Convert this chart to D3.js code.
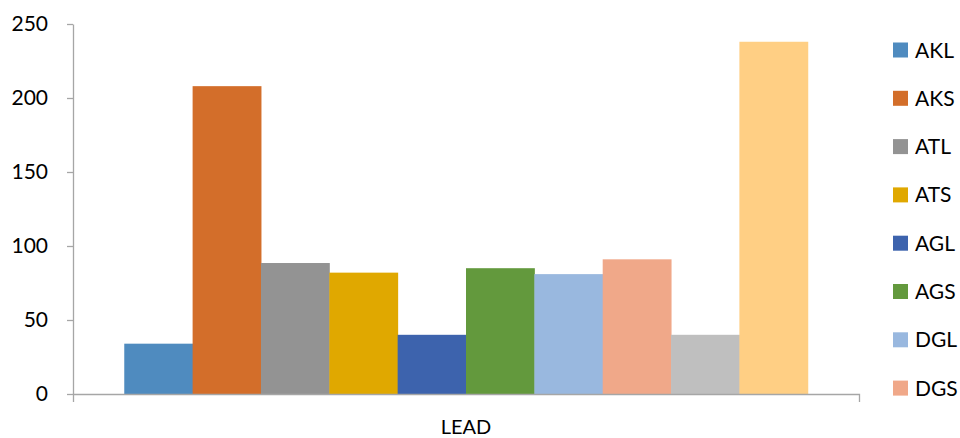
<!DOCTYPE html>
<html>
<head>
<meta charset="utf-8">
<script src="https://cdn.jsdelivr.net/npm/d3@7"></script>
<style>
  html, body { margin: 0; padding: 0; background: #fff; }
  svg { display: block; font-family: Lato, "Open Sans", sans-serif; }
</style>
</head>
<body>
<svg id="chart" width="960" height="438"></svg>
<script>
// Lead measurements per sample group
const categories = ["LEAD"];
const seriesNames = ["AKL", "AKS", "ATL", "ATS", "AGL", "AGS", "DGL", "DGS", "DKL", "DKS"];
const seriesValues = [34, 208, 88.5, 82, 40, 85, 81, 91, 40, 238];
const seriesColors = ["#4F8BBF", "#D36E2A", "#939393", "#E0A800", "#3D63AD",
                      "#63993D", "#99B8DF", "#F0A889", "#BFBFBF", "#FFCF84"];
const yTicks = [0, 50, 100, 150, 200, 250];
const legendCount = 8; // entries that fit in the legend column

const svg = d3.select("#chart");
const plot = { left: 73, right: 859, top: 24, bottom: 394 };
const axisColor = "#A6A6A6";

const y = d3.scaleLinear().domain([0, 250]).range([plot.bottom, plot.top]);

const x0 = d3.scaleBand().domain(categories)
  .range([plot.left, plot.right]).paddingInner(0).paddingOuter(0.075);
const x1 = d3.scaleBand().domain(seriesNames)
  .range([0, x0.bandwidth()]).padding(0);
const color = d3.scaleOrdinal().domain(seriesNames).range(seriesColors);

const rows = categories.map(c => seriesNames.map((s, i) => ({ cat: c, name: s, value: seriesValues[i] })));

// bars
svg.append("g").selectAll("g").data(rows).join("g")
  .attr("transform", (d, i) => `translate(${x0(categories[i])},0)`)
  .selectAll("rect").data(d => d).join("rect")
  .attr("x", d => x1(d.name))
  .attr("width", x1.bandwidth() + 0.5)
  .attr("y", d => y(d.value))
  .attr("height", d => y(0) - y(d.value))
  .attr("fill", d => color(d.name));

// y axis
const yAxis = svg.append("g")
  .attr("transform", `translate(${plot.left},0)`)
  .call(d3.axisLeft(y).tickValues(yTicks).tickSize(6).tickPadding(19).tickSizeOuter(0));
yAxis.select(".domain").attr("stroke", axisColor).attr("stroke-width", 1.3);
yAxis.selectAll(".tick line").attr("stroke", axisColor).attr("stroke-width", 1.3);
yAxis.selectAll(".tick text").attr("font-size", 21).attr("fill", "#000")
  .attr("font-family", "Lato, sans-serif");

// x axis (Excel-style ticks at the category edges)
const xAxis = svg.append("g")
  .attr("transform", `translate(0,${plot.bottom})`)
  .call(d3.axisBottom(x0).tickSize(0).tickPadding(26).tickSizeOuter(8));
xAxis.select(".domain").attr("stroke", axisColor).attr("stroke-width", 1.3);
xAxis.selectAll(".tick text").attr("font-size", 20).attr("fill", "#000")
  .attr("font-family", "Lato, sans-serif");

// legend
const legend = svg.append("g").attr("transform", "translate(893,50)");
const items = legend.selectAll("g").data(seriesNames.slice(0, legendCount)).join("g")
  .attr("transform", (d, i) => `translate(0,${i * 48.3})`);
items.append("rect").attr("x", 0).attr("y", -7.5).attr("width", 15).attr("height", 15)
  .attr("fill", d => color(d));
items.append("text").attr("x", 22).attr("y", 0).attr("dy", "0.36em")
  .attr("font-size", 21).attr("fill", "#000").text(d => d);
</script>
</body>
</html>
